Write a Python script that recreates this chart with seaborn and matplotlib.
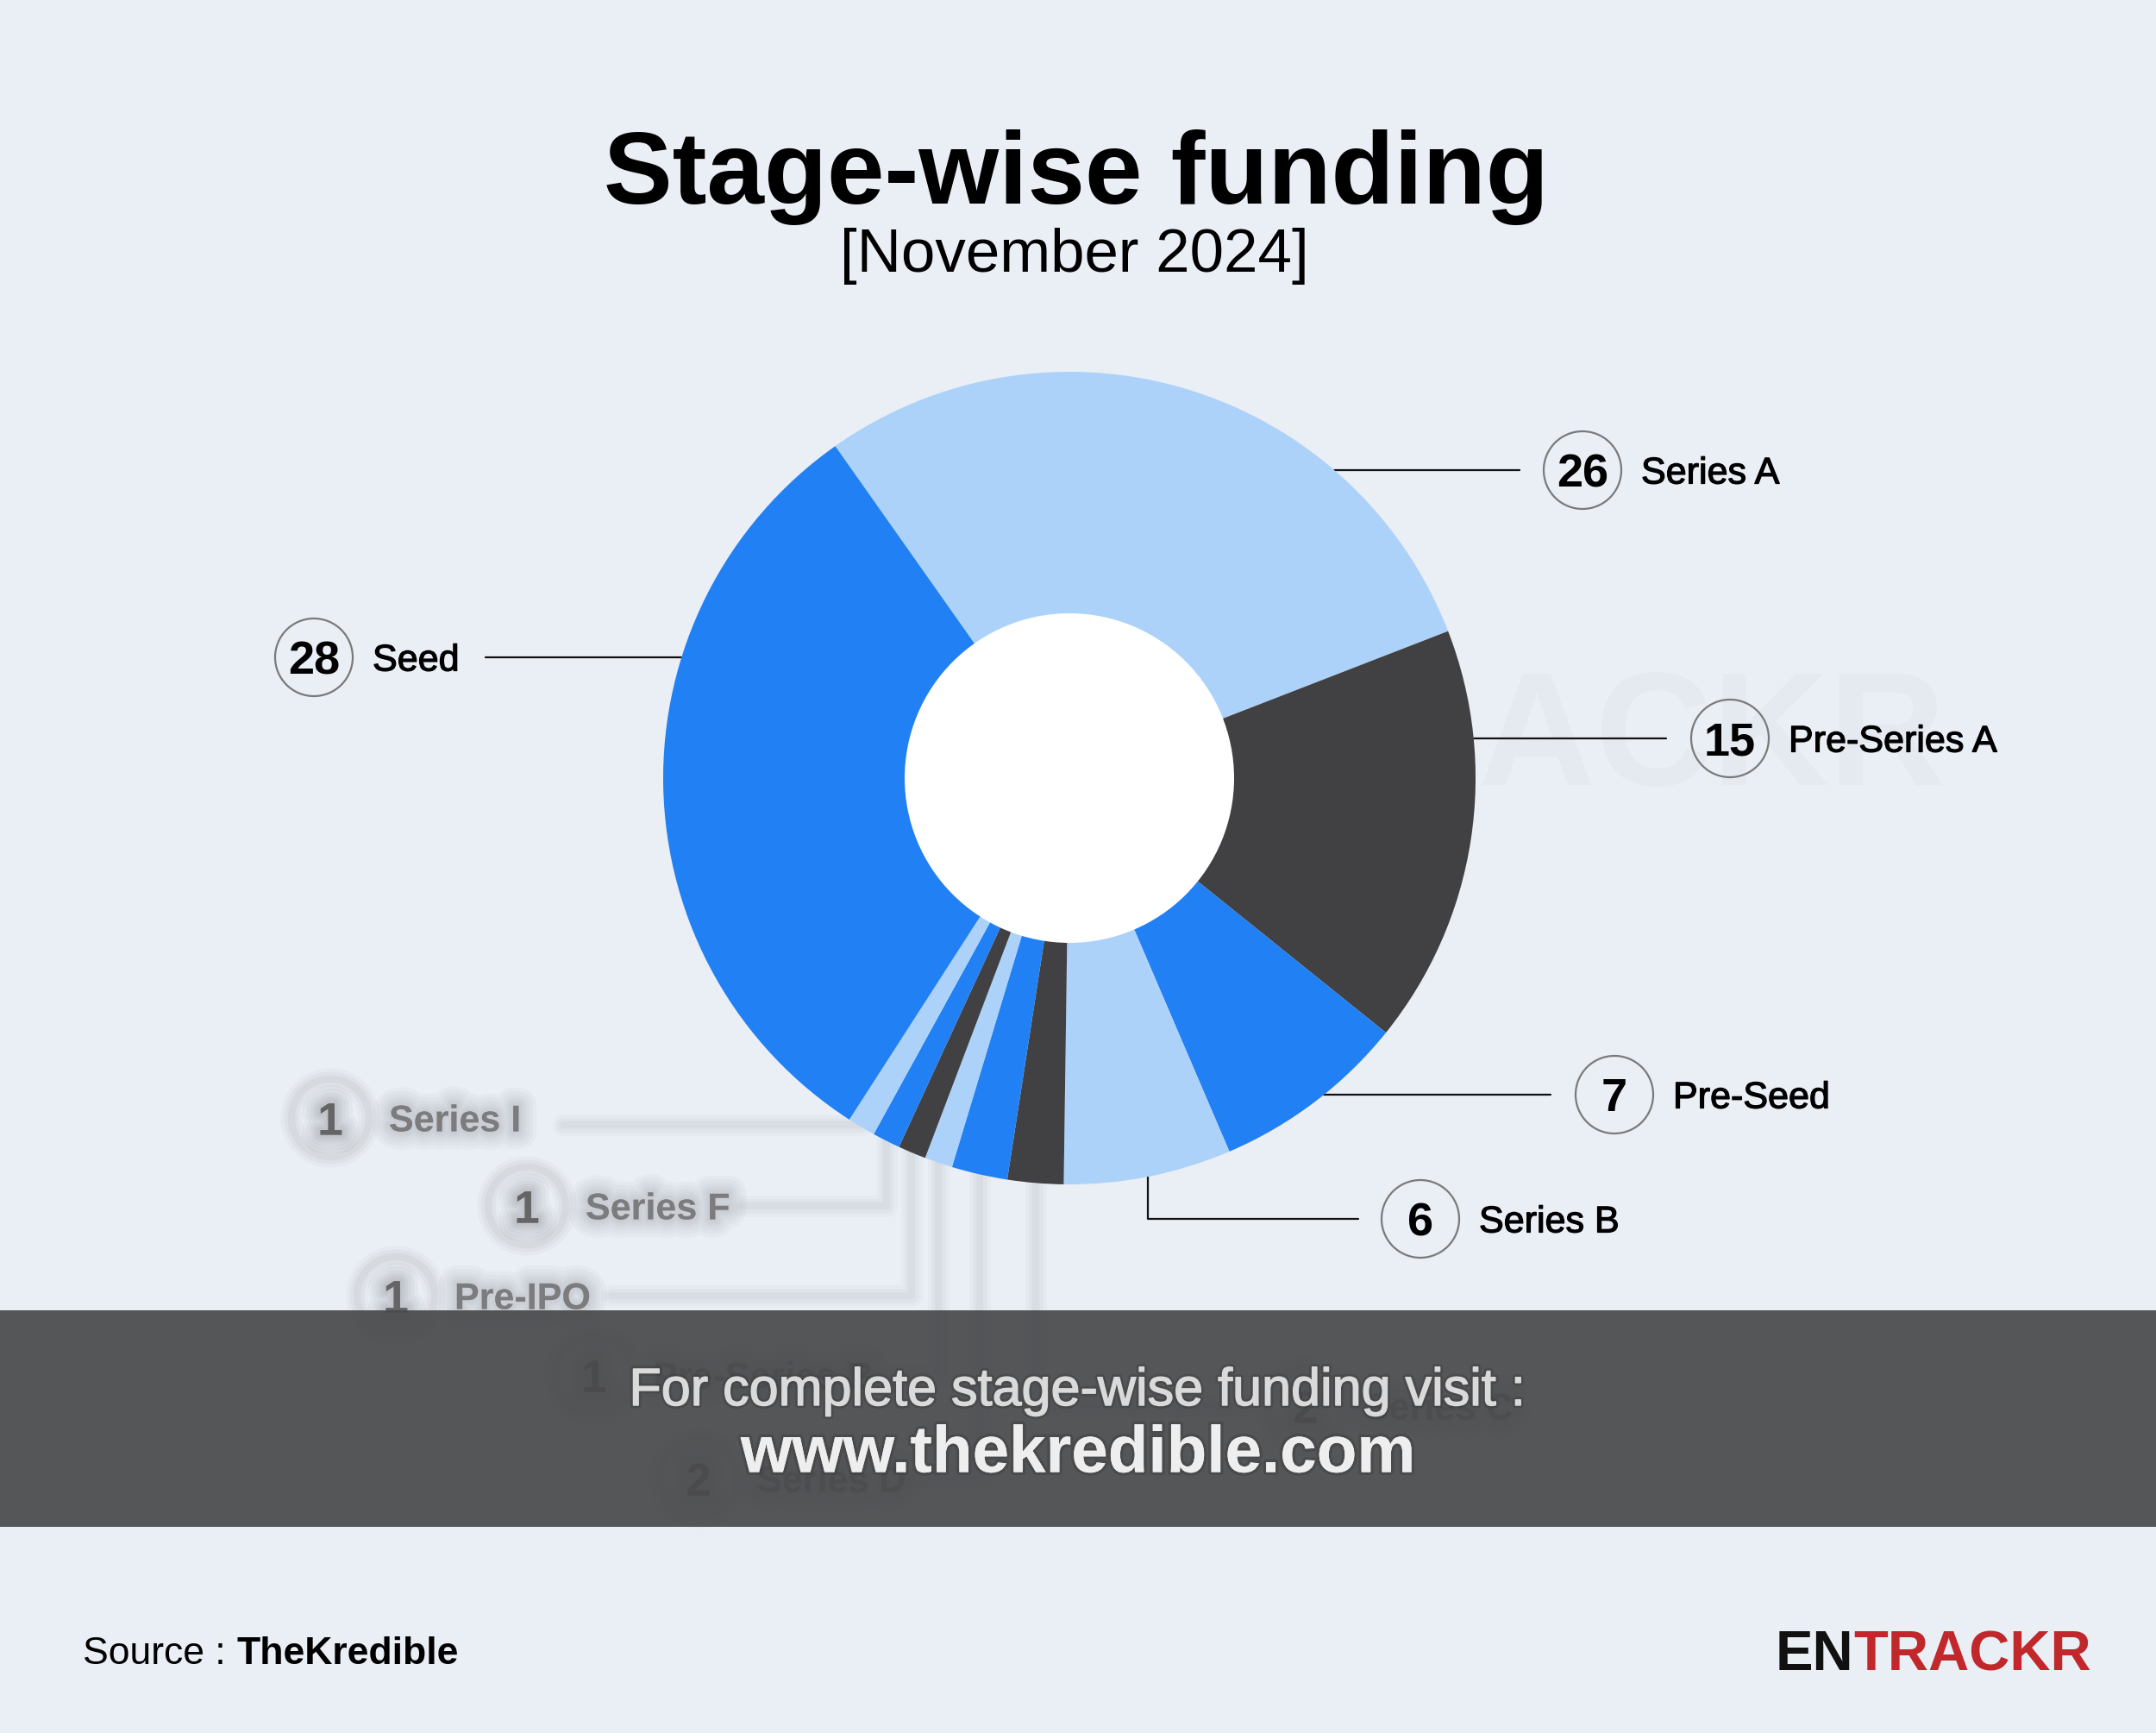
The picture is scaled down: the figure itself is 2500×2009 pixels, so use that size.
import matplotlib
matplotlib.use("Agg")
import matplotlib.pyplot as plt
import matplotlib.patheffects as pe
from matplotlib.patches import Circle, Rectangle
import numpy as np
import seaborn as sns

# data (clockwise from the top-left edge of Series A)
stages = ["Series A", "Pre-Series A", "Pre-Seed", "Series B", "Series C", "Series D",
          "Pre-Series B", "Pre-IPO", "Series F", "Series I", "Seed"]
counts = [26, 15, 7, 6, 2, 2, 1, 1, 1, 1, 28]
slice_colors = ["#ACD2F9", "#414042", "#2180F3", "#ACD2F9", "#414042", "#2180F3",
                "#ACD2F9", "#414042", "#2180F3", "#ACD2F9", "#2180F3"]

# labels shown clearly
shown = ["Series A", "Pre-Series A", "Pre-Seed", "Series B", "Seed"]
shown_y = [545, 856, 1269, 1413, 762]          # pixel rows from the top
circle_x = [1835, 2006, 1872, 1647, 364]
line_end_x = [1762, 1932, 1798, 1575, 563]

# blurred labels (mostly hidden under the banner)
blur_stages = ["Series I", "Series F", "Pre-IPO", "Pre-Series B", "Series D", "Series C"]
blur_circle = [(383, 1296), (611, 1398), (459, 1502), (689, 1594), (810, 1714), (1514, 1630)]

W, H = 2500, 2009
BG = "#EAEEF5"

sns.set_theme(style="white")
plt.rcParams["font.family"] = ["Liberation Sans", "DejaVu Sans"]

fig = plt.figure(figsize=(25, 20.09), dpi=100, facecolor=BG)
ax = fig.add_axes([0, 0, 1, 1])
ax.set_facecolor(BG)


def Y(y):
    return H - y


cx, cy = 1240, 902
R, r_in = 471, 191

wedges, _ = ax.pie(counts, colors=slice_colors, startangle=125.2, counterclock=False,
                   radius=R, center=(cx, Y(cy)),
                   wedgeprops=dict(linewidth=0), frame=False)
for w in wedges:
    w.set_zorder(3)
ax.add_patch(Circle((cx, Y(cy)), r_in, facecolor="white", edgecolor="none", zorder=4))

ax.set_xlim(0, W)
ax.set_ylim(0, H)
ax.set_aspect("auto")
ax.axis("off")

# faint watermark behind the pie
ax.text(2256, Y(861), "ENTRACKR", ha="right", va="center", fontsize=135,
        fontweight="bold", color="#E5E9F0", zorder=0)

thick = [pe.withStroke(linewidth=0.9, foreground="black")]


def edge_x(y, side):
    dy = y - cy
    return cx + side * np.sqrt(max(R ** 2 - dy ** 2, 0))


# clear labels
for st, y, ccx, lx in zip(shown, shown_y, circle_x, line_end_x):
    n = counts[stages.index(st)]
    side = -1 if ccx < cx else 1
    if st == "Series B":
        ex = 1331
        ey = cy + np.sqrt(R ** 2 - (ex - cx) ** 2)
        ax.plot([ex, ex, lx], [Y(ey - 4), Y(y), Y(y)], color="#111111", lw=1.6, zorder=2)
    else:
        ex = edge_x(y, side)
        ax.plot([ex, lx], [Y(y), Y(y)], color="#111111", lw=1.6, zorder=2)
    ax.add_patch(Circle((ccx, Y(y)), 45, facecolor="none", edgecolor="#7A7A7A", lw=1.6, zorder=5))
    ax.text(ccx, Y(y), str(n), ha="center", va="center_baseline", fontsize=39,
            fontweight="bold", color="black", zorder=6)
    ax.text(ccx + 68, Y(y), st, ha="left", va="center_baseline", fontsize=31,
            color="black", zorder=6, path_effects=thick)


def blur(color, base_alpha):
    return [pe.withStroke(linewidth=lw, foreground=color, alpha=base_alpha)
            for lw in (30, 24, 18, 13, 9, 5)]


# blurred labels
small_idx = [9, 8, 7, 6, 5, 4]
for st, (bx, by), k in zip(blur_stages, blur_circle, small_idx):
    n = counts[k]
    mid = np.deg2rad((wedges[k].theta1 + wedges[k].theta2) / 2)
    px = cx + R * np.cos(mid)
    py = cy - R * np.sin(mid)
    if st == "Series I":
        xs, ys = [bx + 270, px], [by + 8, by + 8]
    elif st == "Series C":
        xs, ys = [px, px, bx - 70], [py, by, by]
    else:
        xs, ys = [bx + 250, px, px], [by, by, py]
    for lw, a in ((18, 0.08), (12, 0.12), (6, 0.16)):
        ax.plot(xs, [Y(v) for v in ys], color="#B4B8BF", lw=lw, alpha=a, zorder=1,
                solid_capstyle="round", solid_joinstyle="round")
    for lw, a in ((18, 0.05), (12, 0.07), (6, 0.09)):
        ax.add_patch(Circle((bx, Y(by)), 45, facecolor="none", edgecolor="#8A8A8A",
                            lw=lw, alpha=a, zorder=1))
    ax.text(bx, Y(by), str(n), ha="center", va="center_baseline", fontsize=38,
            fontweight="bold", color="#555555", alpha=0.2, zorder=1,
            path_effects=blur("#7E8188", 0.07) + [pe.Normal()])
    ax.text(bx + 68, Y(by), st, ha="left", va="center_baseline", fontsize=31,
            fontweight="bold", color="#666666", alpha=0.15, zorder=1,
            path_effects=blur("#8C8F95", 0.06) + [pe.Normal()])

# titles
ax.text(W / 2 - 2, Y(236), "Stage-wise funding", ha="center", va="baseline",
        fontsize=86, fontweight="bold", color="black")
ax.text(W / 2 - 4, Y(290), "[November 2024]", ha="center", va="center_baseline",
        fontsize=51, color="black")

# banner
ax.add_patch(Rectangle((0, Y(1770)), W, 1770 - 1519, facecolor="#494A4C",
                       edgecolor="none", alpha=0.93, zorder=8))
t1 = ax.text(1250, Y(1607), "For complete stage-wise funding visit :", ha="center",
             va="center_baseline", fontsize=44, color="#DADADA", zorder=9)
t2 = ax.text(1250, Y(1679), "www.thekredible.com", ha="center", va="center_baseline",
             fontsize=55, fontweight="bold", color="#EEEEEE", zorder=9)
t1.set_path_effects([pe.withStroke(linewidth=5, foreground="#333333", alpha=0.3),
                     pe.withStroke(linewidth=1, foreground="#DADADA")])
t2.set_path_effects([pe.withStroke(linewidth=5, foreground="#333333", alpha=0.3), pe.Normal()])

# footer
fig.canvas.draw()
inv = ax.transData.inverted()
src = ax.text(96, Y(1913), "Source : ", ha="left", va="center_baseline", fontsize=32, color="black")
fig.canvas.draw()
bb = src.get_window_extent().transformed(inv)
ax.text(bb.x1, Y(1913), "TheKredible", ha="left", va="center_baseline", fontsize=32,
        fontweight="bold", color="black")

tr = ax.text(2425, Y(1913), "TRACKR", ha="right", va="center_baseline", fontsize=47,
             fontweight="bold", color="#C0282C")
fig.canvas.draw()
bb = tr.get_window_extent().transformed(inv)
ax.text(bb.x0, Y(1913), "EN", ha="right", va="center_baseline", fontsize=47,
        fontweight="bold", color="#111111")

fig.savefig("out.png", dpi=100, facecolor=BG)
